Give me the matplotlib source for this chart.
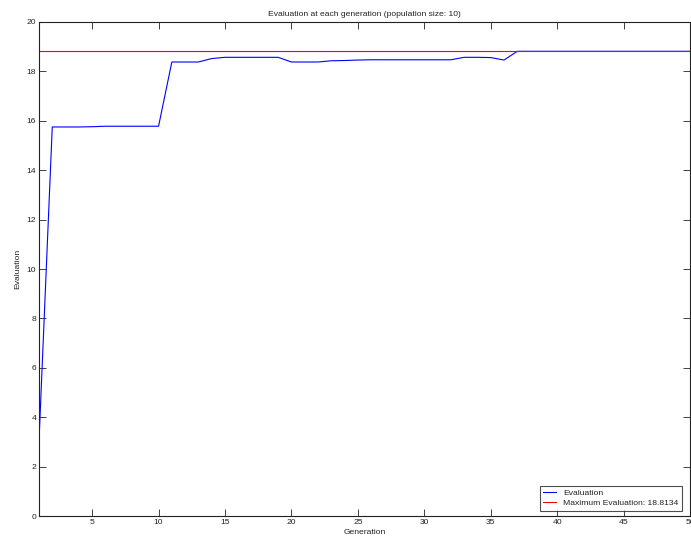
import matplotlib
matplotlib.use("Agg")
import matplotlib.pyplot as plt

generations = list(range(1, 51))
evaluation = [3.0, 15.75, 15.75, 15.75, 15.76, 15.78, 15.78, 15.78, 15.78, 15.78,
              18.38, 18.38, 18.38, 18.52, 18.57, 18.57, 18.57, 18.57, 18.57, 18.38,
              18.38, 18.38, 18.43, 18.44, 18.46, 18.47, 18.47, 18.47, 18.47, 18.47,
              18.47, 18.47, 18.57, 18.57, 18.56, 18.46, 18.8134, 18.8134, 18.8134, 18.8134,
              18.8134, 18.8134, 18.8134, 18.8134, 18.8134, 18.8134, 18.8134, 18.8134, 18.8134, 18.8134]
max_eval = 18.8134
x_ticks = [5, 10, 15, 20, 25, 30, 35, 40, 45, 50]
y_ticks = [0, 2, 4, 6, 8, 10, 12, 14, 16, 18, 20]

plt.rcParams['font.family'] = ['Liberation Sans', 'DejaVu Sans']
fs = 6.1
fig = plt.figure(figsize=(6.91, 5.43), dpi=100)
ax = fig.add_axes([0.0564, 0.0497, 0.9422, 0.9098])

ax.plot(generations, evaluation, color='#0000ff', lw=0.8, label='Evaluation')
ax.axhline(max_eval, color='#ff0000', lw=0.8, label='Maximum Evaluation: %.4f' % max_eval)

ax.set_xlim(1, 50)
ax.set_ylim(0, 20)
ax.set_xticks(x_ticks)
ax.set_yticks(y_ticks)
ax.tick_params(direction='in', length=5, width=0.6, top=True, right=True,
               labelsize=fs, colors='#222222', pad=2)
for s in ax.spines.values():
    s.set_linewidth(0.8)
    s.set_color('#222222')

ax.set_title('Evaluation at each generation (population size: 10)', fontsize=fs, color='#222222', pad=4)
ax.set_xlabel('Generation', fontsize=fs, color='#222222', labelpad=2)
ax.set_ylabel('Evaluation', fontsize=fs, color='#222222', labelpad=4)

leg = ax.legend(loc='lower right', bbox_to_anchor=(1 - 8 / 651, 5.3 / 494), fontsize=fs,
                frameon=True, fancybox=False, handlelength=1.6, borderaxespad=0.0,
                borderpad=0.4, labelspacing=0.25, handletextpad=0.8)
leg.get_frame().set_edgecolor('#222222')
leg.get_frame().set_linewidth(0.8)
for t in leg.get_texts():
    t.set_color('#222222')

fig.savefig('out.png', dpi=100)
